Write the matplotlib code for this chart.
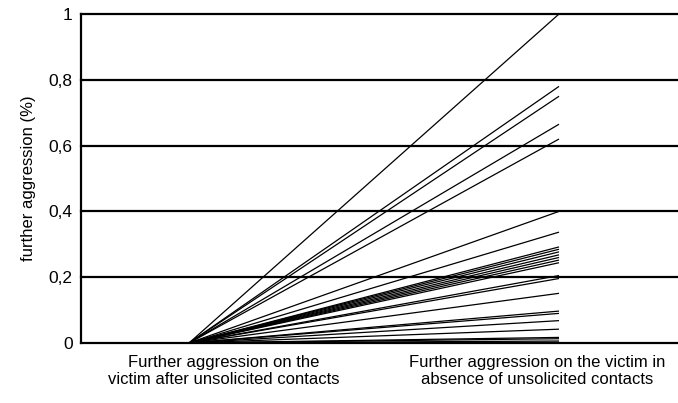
import numpy as np
import matplotlib.pyplot as plt

plt.rcParams['font.family'] = ['Liberation Sans', 'DejaVu Sans']

# data: every line goes from 0 (after contacts) to the value below (absence of contacts)
conditions = [1, 2]
start_values = [0.0] * 25
end_values = [1.0, 0.78, 0.75, 0.665, 0.62, 0.40, 0.337, 0.292, 0.285, 0.277,
              0.268, 0.26, 0.252, 0.244, 0.205, 0.196, 0.151, 0.097, 0.09, 0.068,
              0.042, 0.017, 0.013, 0.006, 0.002]
y_ticks = [0, 0.2, 0.4, 0.6, 0.8, 1.0]
y_tick_labels = ['0', '0,2', '0,4', '0,6', '0,8', '1']
x_labels = ['Further aggression on the\nvictim after unsolicited contacts',
            'Further aggression on the victim in\nabsence of unsolicited contacts']
x_label_pos = [1.095, 1.94]

fig = plt.figure(figsize=(6.78, 4.03), dpi=100)
ax = fig.add_axes([81 / 678, 60 / 403, 597 / 678, 329 / 403])

# gridlines first
for yv in y_ticks[1:]:
    ax.axhline(yv, color='black', lw=1.6, zorder=1, clip_on=False)

for s, e in zip(start_values, end_values):
    ax.plot(conditions, [s, e], color='black', lw=0.9, zorder=2,
            solid_capstyle='butt')

ax.set_xlim(0.708, 2.3216)
ax.set_ylim(0, 1)
ax.set_yticks(y_ticks)
ax.set_yticklabels(y_tick_labels, fontsize=12.5)
ax.set_xticks(x_label_pos)
ax.set_xticklabels(x_labels, fontsize=12, linespacing=1.12)
ax.tick_params(axis='both', length=0)
ax.tick_params(axis='y', pad=6)
ax.tick_params(axis='x', pad=9)
ax.set_ylabel('further aggression (%)', fontsize=12, labelpad=9)

for side in ['top', 'right']:
    ax.spines[side].set_visible(False)
ax.spines['left'].set_linewidth(1.6)
ax.spines['bottom'].set_linewidth(1.6)

fig.savefig('out.png', dpi=100)
